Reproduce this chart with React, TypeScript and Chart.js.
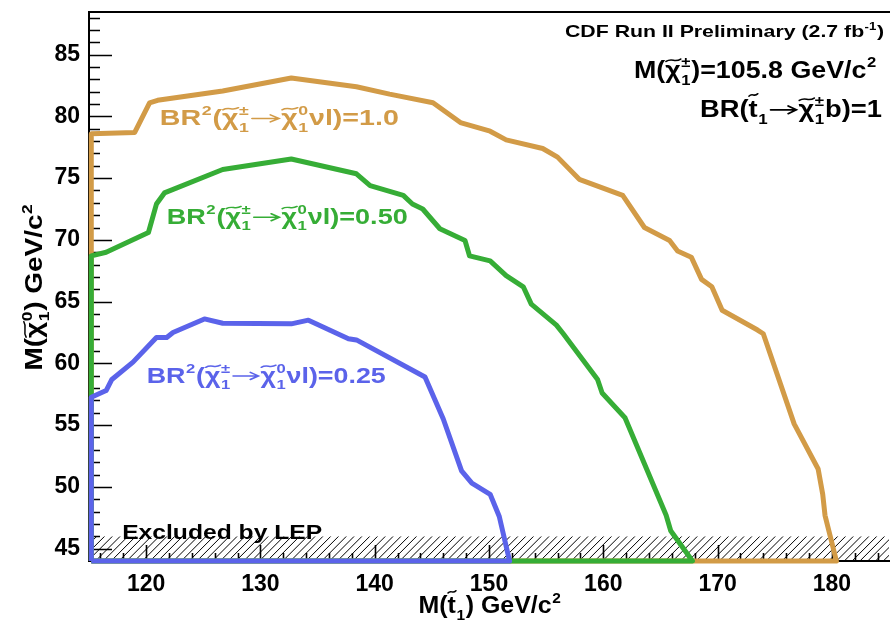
import React, { useEffect, useRef } from 'react';
import { Chart, registerables } from 'chart.js';

Chart.register(...registerables);

// ---------- axis ranges & ticks ----------
const X_MIN = 115;
const X_MAX = 185;
const Y_MIN = 44;
const Y_MAX = 88.45;
const X_TICKS = [120, 130, 140, 150, 160, 170, 180];
const Y_TICKS = [45, 50, 55, 60, 65, 70, 75, 80, 85];
const LEP_LIMIT = 46;

// ---------- contours: M(stop) vs M(neutralino) ----------
const br100X = [115.2, 115.2, 119.0, 120.3, 121.0, 126.7, 132.7, 138.4, 141.3, 145.1, 147.5, 150.1, 151.5, 154.7, 156.0, 157.9, 161.7, 163.6, 165.8, 166.5, 167.7, 168.6, 169.5, 170.4, 173.5, 174.0, 176.7, 178.8, 179.2, 179.4, 180.4, 115.2];
const br100Y = [44, 78.6, 78.7, 81.1, 81.3, 82.05, 83.1, 82.4, 81.8, 81.1, 79.5, 78.8, 78.1, 77.4, 76.7, 74.9, 73.6, 71.0, 69.95, 69.1, 68.6, 66.8, 66.2, 64.3, 62.7, 62.4, 55.1, 51.45, 49.4, 47.7, 44, 44];

const br050X = [115.2, 115.2, 116.5, 120.2, 120.9, 121.6, 126.7, 132.7, 138.4, 139.6, 142.5, 143.3, 144.2, 145.7, 147.9, 148.3, 150.1, 151.5, 153.0, 153.7, 155.9, 156.5, 159.5, 159.9, 161.9, 165.5, 165.9, 167.8, 115.2];
const br050Y = [44, 68.7, 69.0, 70.6, 72.9, 73.8, 75.7, 76.55, 75.35, 74.4, 73.6, 72.9, 72.5, 70.9, 69.95, 68.7, 68.3, 67.1, 66.2, 64.8, 63.1, 62.4, 58.7, 57.6, 55.6, 47.7, 46.45, 44, 44];

const br025X = [115.2, 115.2, 116.5, 117.0, 118.85, 120.9, 121.8, 122.35, 125.1, 126.7, 132.7, 134.2, 137.7, 138.4, 144.4, 146.0, 147.6, 148.5, 150.1, 150.9, 151.8, 115.2];
const br025Y = [44, 57.25, 57.8, 58.7, 60.1, 62.1, 62.1, 62.5, 63.6, 63.25, 63.2, 63.5, 62.0, 61.9, 58.9, 55.5, 51.3, 50.3, 49.4, 47.6, 44, 44];

const COLOR_100 = '#d29b47';
const COLOR_050 = '#36ad36';
const COLOR_025 = '#5b63ea';

const FONT = '"Liberation Sans", Arial, Helvetica, sans-serif';

type Seg = { t?: string; sup?: string; sub?: string; tilde?: number; arrow?: number };

const CHI_PM: Seg[] = [{ t: 'χ', tilde: 0.74 }, { sup: '±', sub: '1' }];
const CHI_0: Seg[] = [{ t: 'χ', tilde: 0.74 }, { sup: '0', sub: '1' }];
const ARROW: Seg = { arrow: 1.1 };
const brLabel = (v: string): Seg[] => [
  { t: 'BR' }, { sup: '2' }, { t: '(' }, ...CHI_PM, ARROW, ...CHI_0, { t: 'νl)=' + v },
];

const LABEL_100 = brLabel('1.0');
const LABEL_050 = brLabel('0.50');
const LABEL_025 = brLabel('0.25');
const CDF_TEXT: Seg[] = [{ t: 'CDF Run II Preliminary (2.7 fb' }, { sup: '-1' }, { t: ')' }];
const MCHI_TEXT: Seg[] = [{ t: 'M(' }, ...CHI_PM, { t: ')=105.8 GeV/c' }, { sup: '2' }];
const BRSTOP_TEXT: Seg[] = [{ t: 'BR(' }, { t: 't', tilde: 0.92 }, { sub: '1' }, ARROW, ...CHI_PM, { t: 'b)=1' }];
const X_TITLE: Seg[] = [{ t: 'M(' }, { t: 't', tilde: 0.92 }, { sub: '1' }, { t: ') GeV/c' }, { sup: '2' }];
const Y_TITLE: Seg[] = [{ t: 'M(' }, ...CHI_0, { t: ') GeV/c' }, { sup: '2' }];
const LEP_TEXT: Seg[] = [{ t: 'Excluded by LEP' }];

function segWidth(ctx: CanvasRenderingContext2D, s: Seg, size: number) {
  if (s.arrow) return s.arrow * size;
  if (s.t) {
    ctx.font = `bold ${size}px ${FONT}`;
    return ctx.measureText(s.t).width;
  }
  ctx.font = `bold ${size * 0.62}px ${FONT}`;
  const a = s.sup ? ctx.measureText(s.sup).width : 0;
  const b = s.sub ? ctx.measureText(s.sub).width : 0;
  return Math.max(a, b) + size * 0.05;
}

function drawRich(
  ctx: CanvasRenderingContext2D,
  segs: Seg[],
  x: number,
  y: number,
  size: number,
  color: string,
  align: 'left' | 'right' | 'center',
  target?: number
) {
  const widths = segs.map((s) => segWidth(ctx, s, size));
  const total = widths.reduce((a, b) => a + b, 0);
  const sx = target ? target / total : 1;
  const shown = total * sx;
  const startX = align === 'left' ? x : align === 'right' ? x - shown : x - shown / 2;
  ctx.save();
  ctx.translate(startX, y);
  ctx.scale(sx, 1);
  ctx.fillStyle = color;
  ctx.strokeStyle = color;
  ctx.textBaseline = 'alphabetic';
  ctx.textAlign = 'left';
  ctx.lineCap = 'round';
  let cx = 0;
  segs.forEach((s, i) => {
    const w = widths[i];
    if (s.arrow) {
      const yy = -0.3 * size;
      const x0 = cx + 0.08 * size;
      const x1 = cx + w - 0.08 * size;
      ctx.lineWidth = size * 0.07;
      ctx.beginPath();
      ctx.moveTo(x0, yy);
      ctx.lineTo(x1, yy);
      ctx.moveTo(x1 - 0.3 * size, yy - 0.16 * size);
      ctx.lineTo(x1, yy);
      ctx.lineTo(x1 - 0.3 * size, yy + 0.16 * size);
      ctx.stroke();
    } else if (s.t) {
      ctx.font = `bold ${size}px ${FONT}`;
      ctx.fillText(s.t, cx, 0);
      if (s.tilde) {
        const x0 = cx + w * 0.05;
        const x1 = cx + w * 1.0;
        const yy = -s.tilde * size;
        const a = size * 0.05;
        ctx.lineWidth = size * 0.065;
        ctx.beginPath();
        ctx.moveTo(x0, yy + a);
        ctx.bezierCurveTo(x0 + (x1 - x0) * 0.4, yy - 2.2 * a, x0 + (x1 - x0) * 0.6, yy + 2.2 * a, x1, yy - a);
        ctx.stroke();
      }
    } else {
      ctx.font = `bold ${size * 0.62}px ${FONT}`;
      if (s.sup) ctx.fillText(s.sup, cx + size * 0.02, -size * 0.44);
      if (s.sub) ctx.fillText(s.sub, cx + size * 0.02, size * 0.3);
    }
    cx += w;
  });
  ctx.restore();
}

const pairs = (xs: number[], ys: number[]) => xs.map((x, i) => ({ x, y: ys[i] }));

const decorPlugin = {
  id: 'decor',
  beforeDatasetsDraw(chart: any) {
    const ctx: CanvasRenderingContext2D = chart.ctx;
    const xs = chart.scales.x;
    const ys = chart.scales.y;
    const { left, right, top, bottom } = chart.chartArea;
    ctx.save();
    // LEP hatch band
    const yTop = ys.getPixelForValue(LEP_LIMIT);
    ctx.beginPath();
    ctx.rect(left, yTop, right - left, bottom - yTop);
    ctx.clip();
    ctx.strokeStyle = '#000';
    ctx.lineWidth = 1;
    const h = bottom - yTop;
    ctx.beginPath();
    for (let x = left - h; x < right + h; x += 7.8) {
      ctx.moveTo(x, bottom);
      ctx.lineTo(x + h, yTop);
    }
    ctx.stroke();
    ctx.restore();

    // inner tick marks
    ctx.save();
    ctx.strokeStyle = '#000';
    ctx.lineWidth = 1.6;
    ctx.beginPath();
    for (let v = 116; v <= 184; v += 2) {
      const px = Math.round(xs.getPixelForValue(v)) + 0.5;
      const len = X_TICKS.includes(v) ? 16 : 8;
      ctx.moveTo(px, bottom);
      ctx.lineTo(px, bottom - len);
    }
    for (let v = 45; v <= 88; v += 1) {
      const py = Math.round(ys.getPixelForValue(v)) + 0.5;
      const len = Y_TICKS.includes(v) ? 23 : 11;
      ctx.moveTo(left, py);
      ctx.lineTo(left + len, py);
    }
    ctx.stroke();
    // top frame
    ctx.lineWidth = 2;
    ctx.beginPath();
    ctx.moveTo(left - 1, top);
    ctx.lineTo(right + 1, top);
    ctx.stroke();
    ctx.restore();
  },
  afterDatasetsDraw(chart: any) {
    const ctx: CanvasRenderingContext2D = chart.ctx;
    const xs = chart.scales.x;
    const ys = chart.scales.y;
    const P = (x: number, y: number) => [xs.getPixelForValue(x), ys.getPixelForValue(y)];
    let p = P(121.2, 79.3);
    drawRich(ctx, LABEL_100, p[0], p[1], 22, COLOR_100, 'left', 239);
    p = P(121.8, 71.3);
    drawRich(ctx, LABEL_050, p[0], p[1], 22, COLOR_050, 'left', 241);
    p = P(120.05, 58.45);
    drawRich(ctx, LABEL_025, p[0], p[1], 22, COLOR_025, 'left', 239);
    p = P(117.9, 45.75);
    drawRich(ctx, LEP_TEXT, p[0], p[1], 21, '#000', 'left', 200);

    const { right, bottom, top } = chart.chartArea;
    drawRich(ctx, CDF_TEXT, right - 5, top + 25, 17, '#000', 'right', 319);
    drawRich(ctx, MCHI_TEXT, right - 12, top + 66, 24, '#000', 'right', 243);
    drawRich(ctx, BRSTOP_TEXT, right - 7, top + 105, 24, '#000', 'right', 182);

    // axis titles
    drawRich(ctx, X_TITLE, 490, bottom + 52, 23, '#000', 'center', 143);
    ctx.save();
    ctx.translate(42, 287);
    ctx.rotate(-Math.PI / 2);
    drawRich(ctx, Y_TITLE, 0, 0, 23, '#000', 'center', 167);
    ctx.restore();
  },
};

export default function App() {
  const ref = useRef<HTMLCanvasElement | null>(null);
  useEffect(() => {
    if (!ref.current) return;
    const tickFont = { family: FONT, size: 23, weight: 'bold' as const };
    const chart = new Chart(ref.current, {
      type: 'scatter',
      data: {
        datasets: [
          { data: pairs(br025X, br025Y), borderColor: COLOR_025 },
          { data: pairs(br050X, br050Y), borderColor: COLOR_050 },
          { data: pairs(br100X, br100Y), borderColor: COLOR_100 },
        ].map((d) => ({
          ...d,
          showLine: true,
          borderWidth: 5,
          pointRadius: 0,
          fill: false,
          tension: 0,
          clip: false as any,
          borderJoinStyle: 'round' as const,
        })),
      },
      options: {
        animation: false,
        responsive: false,
        maintainAspectRatio: false,
        layout: { padding: { top: 12, right: 1, left: 0, bottom: 0 } },
        plugins: { legend: { display: false }, tooltip: { enabled: false } },
        scales: {
          x: {
            type: 'linear',
            min: X_MIN,
            max: X_MAX,
            afterFit: (s: any) => {
              s.height = 65;
              s.paddingLeft = 0;
              s.paddingRight = 0;
            },
            afterBuildTicks: (s: any) => {
              s.ticks = X_TICKS.map((v) => ({ value: v }));
            },
            grid: { display: false, drawTicks: false },
            border: { display: true, color: '#000', width: 2 },
            ticks: { padding: 10, color: '#000', font: tickFont, maxRotation: 0, autoSkip: false },
          },
          y: {
            type: 'linear',
            min: Y_MIN,
            max: Y_MAX,
            afterFit: (s: any) => {
              s.width = 89;
              s.paddingTop = 0;
              s.paddingBottom = 0;
            },
            afterBuildTicks: (s: any) => {
              s.ticks = Y_TICKS.map((v) => ({ value: v }));
            },
            grid: { display: false, drawTicks: false },
            border: { display: true, color: '#000', width: 2 },
            ticks: { padding: 9, color: '#000', font: tickFont, autoSkip: false },
          },
        },
      },
      plugins: [decorPlugin],
    });
    return () => chart.destroy();
  }, []);
  return (
    <div style={{ position: 'fixed', left: 0, top: 0, width: 890, height: 626, background: '#fff' }}>
      <canvas ref={ref} width={890} height={626} style={{ display: 'block' }} />
    </div>
  );
}
